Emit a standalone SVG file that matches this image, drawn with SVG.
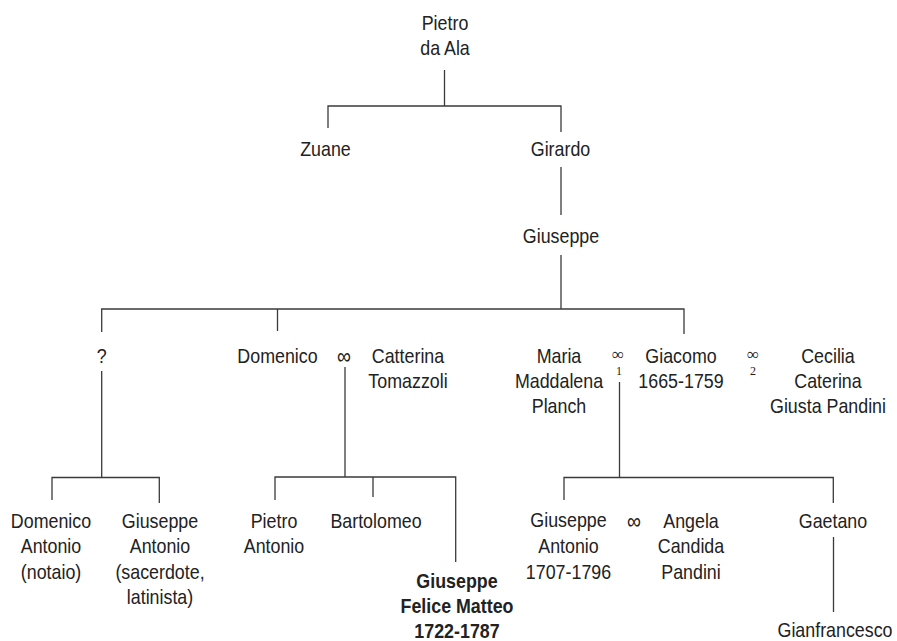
<svg xmlns="http://www.w3.org/2000/svg" width="897" height="641" viewBox="0 0 897 641">
<style>
.t{font-family:"Liberation Sans",Arial,sans-serif;font-size:21px;fill:#222222;text-anchor:middle}
.b{font-weight:bold}
.m{font-family:"Liberation Sans",Arial,sans-serif;font-size:23px;fill:#222222;text-anchor:middle}
.ms{font-family:"Liberation Serif","Times New Roman",serif;font-size:17px;fill:#222222;text-anchor:middle}
.d{font-family:"Liberation Serif","Times New Roman",serif;font-size:12px;fill:#222222;text-anchor:middle}
#connectors path{fill:none;stroke:#3a3a3a;stroke-width:1.3}
</style>
<rect width="897" height="641" fill="#ffffff"/>
<g id="connectors">
<path d="M444.5 70V106M328 128V106H561V132"/>
<path d="M561 167V215"/>
<path d="M561 255V309"/>
<path d="M101.7 332V309H684V334M277.5 309V331"/>
<path d="M101.7 371V477.5M52 500V477.5H159.3V503"/>
<path d="M345 367V477M275 500V477H455.7V562M373 477V497"/>
<path d="M619.5 382V477.5M564 500V477.5H833.3V503"/>
<path d="M833.5 537V612"/>
</g>
<g id="n-pietro"><text class="t" transform="translate(445,0) scale(0.85,1)"><tspan x="0" y="30">Pietro</tspan><tspan x="0" y="55">da Ala</tspan></text></g>
<g id="n-zuane"><text class="t" transform="translate(325.5,0) scale(0.85,1)" y="156">Zuane</text></g>
<g id="n-girardo"><text class="t" transform="translate(560.5,0) scale(0.85,1)" y="156">Girardo</text></g>
<g id="n-giuseppe"><text class="t" transform="translate(561,0) scale(0.85,1)" y="243">Giuseppe</text></g>
<g id="n-unknown"><text class="t" transform="translate(101.7,0) scale(0.85,1)" y="363">?</text></g>
<g id="n-domenico"><text class="t" transform="translate(277.5,0) scale(0.85,1)" y="363">Domenico</text></g>
<g id="m-domenico"><text class="m" transform="translate(344,0) scale(0.85,1)" y="364">∞</text></g>
<g id="n-catterina"><text class="t" transform="translate(408,0) scale(0.85,1)"><tspan x="0" y="363">Catterina</tspan><tspan x="0" y="388.5">Tomazzoli</tspan></text></g>
<g id="n-maria"><text class="t" transform="translate(559,0) scale(0.85,1)"><tspan x="0" y="363">Maria</tspan><tspan x="0" y="388">Maddalena</tspan><tspan x="0" y="413">Planch</tspan></text></g>
<g id="m-giacomo-1"><text class="ms" x="618" y="360">∞</text><text class="d" x="619" y="375">1</text></g>
<g id="n-giacomo"><text class="t" transform="translate(681,0) scale(0.85,1)"><tspan x="0" y="363">Giacomo</tspan><tspan x="0" y="388">1665-1759</tspan></text></g>
<g id="m-giacomo-2"><text class="ms" x="753" y="360">∞</text><text class="d" x="753" y="375">2</text></g>
<g id="n-cecilia"><text class="t" transform="translate(828,0) scale(0.85,1)"><tspan x="0" y="363">Cecilia</tspan><tspan x="0" y="388">Caterina</tspan><tspan x="0" y="413">Giusta Pandini</tspan></text></g>
<g id="n-domenico-antonio"><text class="t" transform="translate(51,0) scale(0.85,1)"><tspan x="0" y="528">Domenico</tspan><tspan x="0" y="553.5">Antonio</tspan><tspan x="0" y="579">(notaio)</tspan></text></g>
<g id="n-giuseppe-antonio-s"><text class="t" transform="translate(160,0) scale(0.85,1)"><tspan x="0" y="528">Giuseppe</tspan><tspan x="0" y="553.5">Antonio</tspan><tspan x="0" y="579">(sacerdote,</tspan><tspan x="0" y="604.5">latinista)</tspan></text></g>
<g id="n-pietro-antonio"><text class="t" transform="translate(274,0) scale(0.85,1)"><tspan x="0" y="528">Pietro</tspan><tspan x="0" y="553.5">Antonio</tspan></text></g>
<g id="n-bartolomeo"><text class="t" transform="translate(376,0) scale(0.85,1)" y="528">Bartolomeo</text></g>
<g id="n-giuseppe-felice"><text class="t b" transform="translate(457,0) scale(0.85,1)"><tspan x="0" y="588">Giuseppe</tspan><tspan x="0" y="613">Felice Matteo</tspan><tspan x="0" y="638">1722-1787</tspan></text></g>
<g id="n-giuseppe-antonio"><text class="t" transform="translate(568.5,0) scale(0.85,1)"><tspan x="0" y="527.5">Giuseppe</tspan><tspan x="0" y="553">Antonio</tspan><tspan x="0" y="579">1707-1796</tspan></text></g>
<g id="m-giuseppe-antonio"><text class="m" transform="translate(634,0) scale(0.85,1)" y="529">∞</text></g>
<g id="n-angela"><text class="t" transform="translate(691,0) scale(0.85,1)"><tspan x="0" y="528">Angela</tspan><tspan x="0" y="553">Candida</tspan><tspan x="0" y="579">Pandini</tspan></text></g>
<g id="n-gaetano"><text class="t" transform="translate(833,0) scale(0.85,1)" y="528">Gaetano</text></g>
<g id="n-gianfrancesco"><text class="t" transform="translate(835,0) scale(0.85,1)" y="637">Gianfrancesco</text></g>
</svg>
